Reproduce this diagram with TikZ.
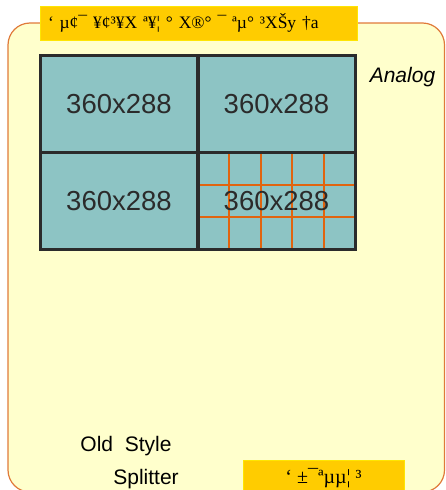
\documentclass[tikz,border=0pt]{standalone}
\usepackage{fontspec}
\setmainfont{Liberation Sans}
\newfontfamily\garbled{Liberation Serif}
\usetikzlibrary{positioning}
\definecolor{paper}{HTML}{FFFFCC}
\definecolor{rim}{HTML}{E07A3A}
\definecolor{gold}{HTML}{FFCC00}
\definecolor{cell}{HTML}{8DC4C4}
\definecolor{ink}{HTML}{2B2B2B}
\definecolor{cut}{HTML}{E0640F}

\begin{document}
\begin{tikzpicture}[x=1pt,y=-1pt,
  c/.style={draw=ink,fill=cell,line width=3.5pt,outer sep=0pt,inner sep=0pt,
    minimum width=157.5pt,minimum height=97pt,text=ink,
    font=\fontsize{27.5}{27.5}\selectfont},
  tag/.style={fill=gold,draw=yellow!70!gold,line width=1pt,outer sep=0pt,
    font=\garbled\fontsize{17.5}{17.5}\selectfont},
  lbl/.style={font=\fontsize{21}{21}\selectfont}]
\useasboundingbox (0,0) rectangle (446,490);
\draw[rim,fill=paper,line width=1.2pt,rounded corners=22pt] (8,23) rectangle (444.5,492);
% title tag
\node[tag,minimum width=317pt,minimum height=34pt,inner xsep=8pt,text width=301pt,align=left]
  (title) at (198.5,23) {‘ µ¢¯ ¥¢³¥X ª¥¦ ° X®° ¯ ªµ° ³XŠy †a};
% four inputs
\node[c] (c1) at (119,104) {360x288};
\node[c,right=0pt of c1] (c2) {360x288};
\node[c,below=0pt of c1] (c3) {360x288};
\node[c,right=0pt of c3,path picture={
    \foreach \i in {1,...,4}
      \draw[cut,line width=2pt] ([xshift=\i*31.5pt]path picture bounding box.north west)
        -- ([xshift=\i*31.5pt]path picture bounding box.south west);
    \foreach \j in {1,2}
      \draw[cut,line width=2pt] ([yshift=-\j*32.3pt]path picture bounding box.north west)
        -- ([yshift=-\j*32.3pt]path picture bounding box.north east);}] (c4) {360x288};
\node[lbl,font=\fontsize{21}{21}\selectfont\itshape] (analog) at (402.5,77) {Analog};
\node[lbl] (old) at (126,446) {Old\ \ Style};
\node[lbl] (split) at (146,479) {Splitter};
\node[tag,minimum width=161pt,minimum height=36pt,font=\garbled\fontsize{20}{20}\selectfont]
  (out) at (323.5,478) {‘ ±¯ªµµ¦ ³};
\end{tikzpicture}
\end{document}
